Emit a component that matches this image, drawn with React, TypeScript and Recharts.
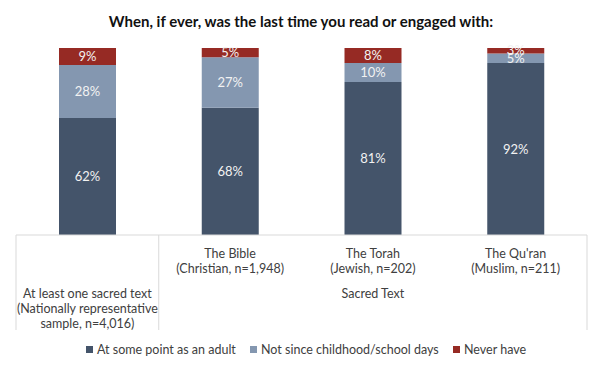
import { BarChart, Bar, XAxis, YAxis, LabelList } from 'recharts';

const categories = ['At least one sacred text', 'The Bible', 'The Torah', "The Qu'ran"];
const tickLines = [
  ['At least one sacred text', '(Nationally representative', 'sample, n=4,016)'],
  ['The Bible', '(Christian, n=1,948)'],
  ['The Torah', '(Jewish, n=202)'],
  ["The Qu'ran", '(Muslim, n=211)'],
];
const groupLabel = 'Sacred Text';

const adult = [62, 68, 81, 92];
const childhood = [28, 27, 10, 5];
const never = [9, 5, 8, 3];

const series = [
  { key: 'adult', name: 'At some point as an adult', color: '#44546a' },
  { key: 'childhood', name: 'Not since childhood/school days', color: '#8497b0' },
  { key: 'never', name: 'Never have', color: '#962a24' },
];

const data = categories.map((name, i) => ({
  name,
  adult: adult[i],
  childhood: childhood[i],
  never: never[i],
}));

const W = 602;
const H = 372;
const axisH = 30;
const margin = { top: 48, right: 15, bottom: 107, left: 16 };
const axisY = H - margin.bottom - axisH;
const bandWidth = (W - margin.left - margin.right) / categories.length;
const tableBottom = 330;
const gridColor = '#d9d9d9';
const textColor = '#404040';

function CategoryTick(props: any) {
  const { x, index } = props;
  const lines = tickLines[index] || [];
  const first = index === 0;
  const startY = first ? 293 : 253;
  const left = x - bandWidth / 2;
  const right = x + bandWidth / 2;
  return (
    <g>
      {lines.map((l: string, i: number) => (
        <text key={i} x={x} y={startY + i * 15} textAnchor="middle" dominantBaseline="central" fill={textColor} fontSize={12.5}>
          {l}
        </text>
      ))}
      {(index === 0 || index === 1) && (
        <line x1={left} x2={left} y1={axisY} y2={tableBottom} stroke={gridColor} />
      )}
      {index === categories.length - 1 && (
        <line x1={right} x2={right} y1={axisY} y2={tableBottom} stroke={gridColor} />
      )}
      {index === 2 && (
        <text x={x} y={293} textAnchor="middle" dominantBaseline="central" fill={textColor} fontSize={12.5}>
          {groupLabel}
        </text>
      )}
    </g>
  );
}

function LegendRow() {
  const xs = [86, 250, 453];
  return (
    <div style={{ position: 'absolute', left: 0, top: 342, width: W, height: 16 }}>
      {series.map((s, i) => (
        <div key={s.key} style={{ position: 'absolute', left: xs[i], top: 0, display: 'flex', alignItems: 'center', whiteSpace: 'nowrap' }}>
          <span style={{ width: 7, height: 7, background: s.color, display: 'inline-block', marginRight: 4 }} />
          <span style={{ fontSize: 12.5, color: textColor }}>{s.name}</span>
        </div>
      ))}
    </div>
  );
}

export default function App() {
  return (
    <div style={{ position: 'absolute', left: 0, top: 0, width: W, height: H, background: '#fff', fontFamily: 'Lato, "Open Sans", sans-serif' }}>
      <div style={{ position: 'absolute', top: 12, left: 0, width: W, textAlign: 'center', fontWeight: 700, fontSize: 15, color: '#111' }}>
        When, if ever, was the last time you read or engaged with:
      </div>
      <BarChart width={W} height={H} data={data} margin={margin} stackOffset="expand" barSize={57}>
        <XAxis
          dataKey="name"
          height={axisH}
          axisLine={{ stroke: gridColor }}
          tickLine={false}
          tick={<CategoryTick />}
          interval={0}
        />
        <YAxis hide domain={[0, 1]} />
        {series.map((s) => (
          <Bar key={s.key} dataKey={s.key} name={s.name} stackId="a" fill={s.color} isAnimationActive={false}>
            <LabelList dataKey={s.key} position="center" fill="#f2f2f2" fontSize={13} formatter={(v: any) => `${v}%`} />
          </Bar>
        ))}
      </BarChart>
      <LegendRow />
    </div>
  );
}
